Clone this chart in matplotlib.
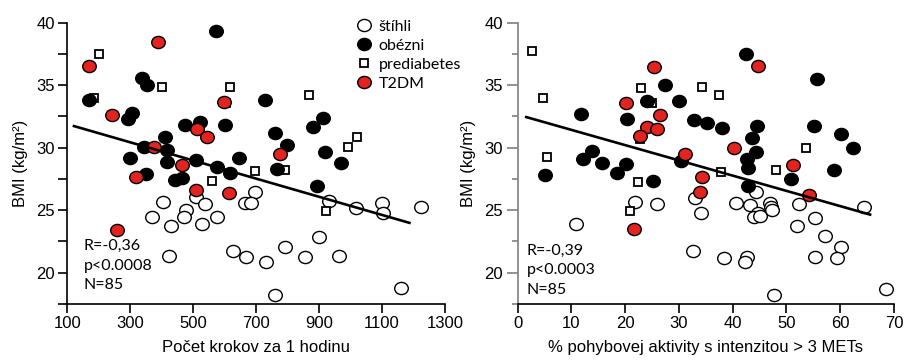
import matplotlib
matplotlib.use("Agg")
import matplotlib.pyplot as plt
from matplotlib.path import Path
from matplotlib.transforms import Affine2D
from matplotlib.lines import Line2D

# left panel: steps per hour vs BMI
steps_lean_x = [508, 696, 403, 539, 664, 685, 477, 472, 368, 428, 527, 576, 931, 1016,
                1100, 1103, 1223, 900, 791, 731, 856, 963, 424, 627, 667, 759, 1159]
steps_lean_y = [26.08, 26.48, 25.62, 25.5, 25.56, 25.6, 25.02, 24.42, 24.42, 23.76, 23.92,
                24.48, 25.76, 25.16, 25.56, 24.76, 25.28, 22.88, 22.08, 20.88, 21.24, 21.34,
                21.36, 21.76, 21.24, 18.22, 18.76]
steps_obese_x = [571, 336, 353, 170, 728, 304, 294, 474, 522, 602, 759, 797, 881, 911, 918,
                 971, 410, 343, 416, 299, 416, 509, 647, 574, 617, 765, 350, 442, 463, 894]
steps_obese_y = [39.3, 35.6, 35.0, 33.8, 33.8, 32.76, 32.26, 31.82, 32.08, 31.8, 31.2, 30.22,
                 31.64, 32.36, 29.68, 28.78, 30.84, 30.04, 29.82, 29.16, 28.88, 29.02, 29.14,
                 28.44, 28.0, 28.28, 27.9, 27.42, 27.56, 26.9]
steps_pre_x = [202, 186, 401, 617, 603, 869, 1019, 992, 696, 791, 561, 923]
steps_pre_y = [37.5, 34.0, 34.84, 34.84, 33.58, 34.22, 30.84, 30.08, 28.14, 28.22, 27.34, 24.96]
steps_t2dm_x = [169, 387, 243, 597, 513, 543, 374, 775, 463, 318, 509, 613, 259]
steps_t2dm_y = [36.54, 38.44, 32.64, 33.68, 31.52, 30.88, 30.04, 29.52, 28.62, 27.68, 26.62,
                26.34, 23.42]
steps_fit_x = [117, 1191]
steps_fit_y = [31.76, 23.96]

# right panel: % activity > 3 METs vs BMI
act_lean_x = [10.8, 21.9, 26.0, 33.0, 34.1, 32.7, 40.7, 43.2, 46.9, 47.2, 44.8, 43.9, 45.1,
              44.4, 52.4, 55.3, 64.5, 51.9, 57.2, 60.1, 59.4, 55.3, 38.4, 42.7, 42.3, 47.6,
              68.5, 47.4]
act_lean_y = [23.9, 25.68, 25.48, 25.96, 24.76, 21.76, 25.6, 25.42, 25.6, 25.24, 24.78, 24.44,
              24.54, 26.48, 25.46, 24.38, 25.24, 23.74, 22.92, 22.08, 21.2, 21.28, 21.2, 21.28,
              20.84, 18.22, 18.7, 25.0]
act_obese_x = [11.7, 27.4, 24.0, 30.1, 20.4, 32.8, 35.3, 38.0, 30.3, 13.8, 12.2, 15.7, 20.2,
               18.4, 5.0, 25.1, 42.5, 55.7, 44.6, 55.1, 60.1, 62.4, 43.6, 44.4, 42.7, 42.9,
               58.8, 50.8, 42.9]
act_obese_y = [32.7, 35.0, 33.74, 33.76, 32.28, 32.24, 31.98, 31.54, 28.94, 29.7, 29.06, 28.74,
               28.7, 27.96, 27.84, 27.36, 37.5, 35.5, 31.76, 31.74, 31.1, 29.98, 30.76, 29.68,
               29.08, 28.36, 28.22, 27.5, 26.9]
act_pre_x = [2.7, 4.8, 5.4, 22.9, 24.9, 22.7, 22.3, 20.9, 34.2, 37.5, 37.8, 53.7, 48.0]
act_pre_y = [37.76, 33.94, 29.28, 34.8, 33.58, 30.68, 27.28, 24.94, 34.82, 34.2, 28.06, 29.94,
             28.2]
act_t2dm_x = [25.3, 20.1, 26.5, 24.1, 26.0, 22.7, 31.2, 34.3, 34.0, 21.6, 44.8, 40.3, 51.3, 54.2]
act_t2dm_y = [36.48, 33.6, 32.62, 31.66, 31.48, 30.94, 29.5, 27.64, 26.48, 23.46, 36.56, 30.0,
              28.62, 26.22]
act_fit_x = [1.36, 65.8]
act_fit_y = [32.48, 24.62]

group_labels = ["štíhli", "obézni", "prediabetes", "T2DM"]
stats_left = "R=-0,36\np<0.0008\nN=85"
stats_right = "R=-0,39\np<0.0003\nN=85"

RED = "#e3231f"
note_font = "Lato"
plt.rcParams["font.family"] = ["Liberation Sans", "DejaVu Sans"]
plt.rcParams["font.size"] = 12

ellipse = Path.unit_circle().transformed(Affine2D().scale(1.12, 1.0))
circ = dict(marker=ellipse, markersize=9.8, markeredgewidth=1.0, markeredgecolor="black",
            linestyle="none", clip_on=False)
sq = dict(marker="s", markersize=6.4, markeredgewidth=1.3, markeredgecolor="black",
          markerfacecolor="white", linestyle="none", clip_on=False)

fig = plt.figure(figsize=(9.05, 3.6), dpi=100)
ax1 = fig.add_axes([0.0744, 0.1556, 0.4173, 0.7814])
ax2 = fig.add_axes([0.5720, 0.1556, 0.4158, 0.7814])


def draw(ax, lx, ly, ox, oy, px, py, tx, ty, fx, fy):
    ax.plot(lx, ly, markerfacecolor="white", **circ)
    ax.plot(px, py, **sq)
    ax.plot(ox, oy, markerfacecolor="black", **circ)
    ax.plot(tx, ty, markerfacecolor=RED, **circ)
    ax.plot(fx, fy, color="black", linewidth=1.9, solid_capstyle="butt")
    for s in ["top", "right"]:
        ax.spines[s].set_visible(False)
    ax.set_ylim(17.5, 40)
    ax.set_ylabel("BMI (kg/m²)", fontsize=12, labelpad=6)


draw(ax1, steps_lean_x, steps_lean_y, steps_obese_x, steps_obese_y, steps_pre_x, steps_pre_y,
     steps_t2dm_x, steps_t2dm_y, steps_fit_x, steps_fit_y)
draw(ax2, act_lean_x, act_lean_y, act_obese_x, act_obese_y, act_pre_x, act_pre_y,
     act_t2dm_x, act_t2dm_y, act_fit_x, act_fit_y)

# left axes
ax1.set_xlim(100, 1300)
ax1.set_xticks(range(100, 1301, 200))
ax1.set_yticks([17.5, 20, 22.5, 25, 27.5, 30, 32.5, 35, 37.5, 40])
ax1.set_yticklabels(["", "20", "", "25", "", "30", "", "35", "", "40"])
ax1.tick_params(axis="both", direction="out", length=6.5, width=1.2, labelsize=12, pad=2.5)
ax1.spines["left"].set_linewidth(1.2)
ax1.spines["bottom"].set_linewidth(1.2)
ax1.set_xlabel("Počet krokov za 1 hodinu", fontsize=12, labelpad=6)

# right axes
ax2.set_xlim(0, 70)
ax2.set_xticks(range(0, 71, 10))
ax2.set_yticks([20, 25, 30, 35, 40])
ax2.set_yticks([17.5, 22.5, 27.5, 32.5, 37.5], minor=True)
ax2.tick_params(axis="x", direction="out", length=6.5, width=1.2, labelsize=12, pad=2.5)
ax2.tick_params(axis="y", which="major", direction="out", length=8, width=1.2,
                color="#7f7f7f", labelsize=12, pad=2.5)
ax2.tick_params(axis="y", which="minor", direction="out", length=4, width=1.2, color="#7f7f7f")
ax2.spines["left"].set_linewidth(1.2)
ax2.spines["left"].set_color("#7f7f7f")
ax2.spines["bottom"].set_linewidth(1.2)
ax2.set_xlabel("% pohybovej aktivity s intenzitou > 3 METs", fontsize=12, labelpad=6)

ax1.text(0.044, 0.23, stats_left, transform=ax1.transAxes, fontsize=11.5, family=note_font,
         va="top", ha="left", linespacing=1.5)
ax2.text(0.024, 0.215, stats_right, transform=ax2.transAxes, fontsize=11.5, family=note_font,
         va="top", ha="left", linespacing=1.5)

handles = [
    Line2D([], [], markerfacecolor="white", **circ),
    Line2D([], [], markerfacecolor="black", **circ),
    Line2D([], [], **sq),
    Line2D([], [], markerfacecolor=RED, **circ),
]
leg = ax1.legend(handles, group_labels, loc="upper left", bbox_to_anchor=(0.765, 1.011),
                 frameon=False, handlelength=1.0, handletextpad=0.4, labelspacing=0.3,
                 borderpad=0, borderaxespad=0, prop={"family": note_font, "size": 11.5})

fig.savefig("out.png", dpi=100)
plt.close()
